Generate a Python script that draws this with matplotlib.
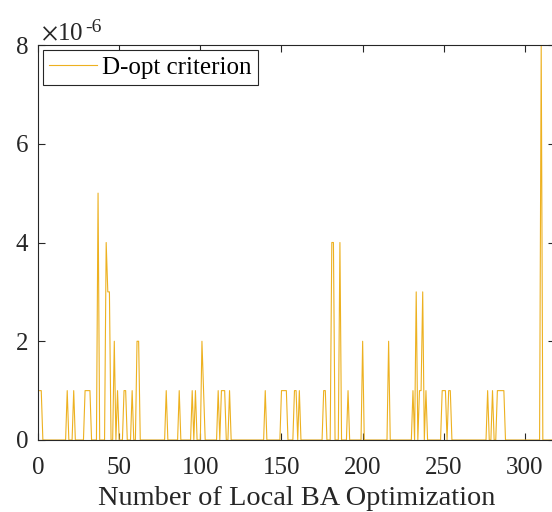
import matplotlib.pyplot as plt
import numpy as np

# D-opt criterion per local BA optimization (units of 1e-6), zero where not listed
n_opt = 318
spike_x = [1, 2, 18, 22, 29, 30, 31, 32, 37, 42, 43, 44, 47, 49, 53, 54, 58, 61, 62,
           79, 87, 95, 97, 101, 102, 111, 113, 114, 115, 118, 140, 150, 151, 152, 153,
           158, 159, 161, 176, 177, 181, 182, 186, 191, 200, 216, 231, 233, 235, 236,
           237, 239, 249, 250, 251, 253, 254, 277, 280, 283, 284, 285, 286, 287, 310, 318]
spike_val = [1, 1, 1, 1, 1, 1, 1, 1, 5, 4, 3, 3, 2, 1, 1, 1, 1, 2, 2,
             1, 1, 1, 1, 2, 1, 1, 1, 1, 1, 1, 1, 1, 1, 1, 1,
             1, 1, 1, 1, 1, 4, 4, 4, 1, 2, 2, 1, 3, 1, 1,
             3, 1, 1, 1, 1, 1, 1, 1, 1, 1, 1, 1, 1, 1, 8, 1]

x = np.arange(1, n_opt + 1)
d_opt = np.zeros(n_opt)
d_opt[np.array(spike_x) - 1] = spike_val

plt.rcParams['font.family'] = ['Liberation Serif', 'DejaVu Serif']
plt.rcParams['mathtext.fontset'] = 'stix'

fig = plt.figure(figsize=(5.52, 5.12), dpi=100)
ax = fig.add_axes([38 / 552, 72 / 512, 517 / 552, 395 / 512])

ax.plot(x, d_opt, color='#EDB120', linewidth=0.8, label='D-opt criterion')

ax.set_xlim(0, 318.5)
ax.set_ylim(0, 8)
ax.set_xticks(np.arange(0, 301, 50))
ax.set_yticks(np.arange(0, 9, 2))
ax.tick_params(direction='in', top=True, right=True, length=5, width=0.8,
               labelsize=18, colors='#262626')
ax.tick_params(axis='x', pad=12)
ax.tick_params(axis='y', pad=7)
for s in ax.spines.values():
    s.set_linewidth(0.8)
    s.set_color('#262626')

ax.set_xlabel('Number of Local BA Optimization', fontsize=20.4, color='#262626', labelpad=5)
# MATLAB style exponent above the y axis
ax.text(0.005, 1.0, r'$\times$10', transform=ax.transAxes,
        fontsize=18, color='#262626', ha='left', va='bottom')
ax.text(0.092, 1.023, '-6', transform=ax.transAxes,
        fontsize=14, color='#262626', ha='left', va='bottom')

leg = ax.legend(loc='upper left', fontsize=18, frameon=True, fancybox=False,
                framealpha=1, edgecolor='#262626', borderaxespad=0.2,
                handlelength=1.9, handletextpad=0.2, borderpad=0.25)
leg.get_frame().set_linewidth(0.8)

fig.savefig('out.png', dpi=100)
